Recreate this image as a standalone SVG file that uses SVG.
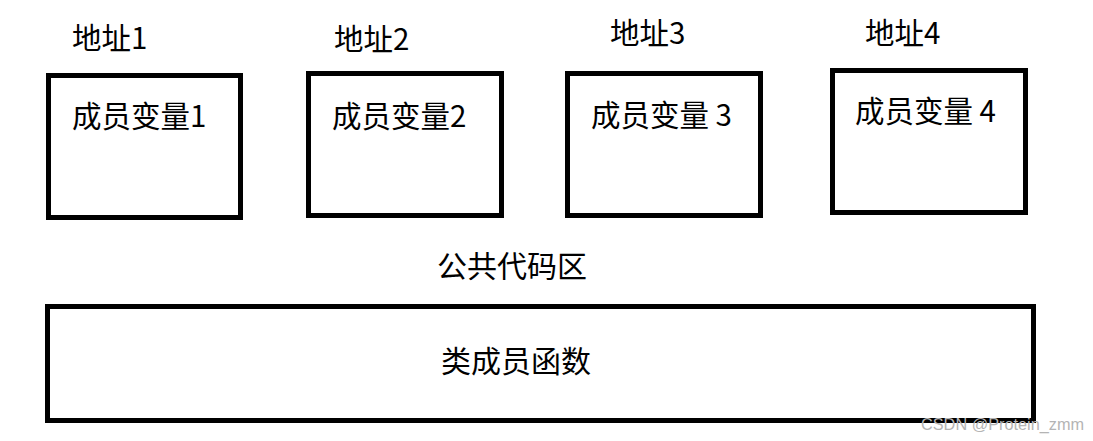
<svg xmlns="http://www.w3.org/2000/svg" width="1093" height="441" viewBox="0 0 1093 441">
<style>
.box{fill:#fff;stroke:#000;stroke-width:5}
.t{font-family:"Noto Sans CJK SC","Noto Sans",sans-serif;font-size:29.5px;fill:#000}
.b{font-size:30px}
.wm{font-family:"Liberation Sans",Arial,sans-serif;font-size:16.3px;fill:#b4b4b4}
</style>
<rect width="1093" height="441" fill="#fff"/>
<g id="addr1"><text class="t" x="72" y="49">地址1</text></g>
<g id="addr2"><text class="t" x="334" y="50">地址2</text></g>
<g id="addr3"><text class="t" x="610" y="44">地址3</text></g>
<g id="addr4"><text class="t" x="865" y="44">地址4</text></g>
<g id="node1"><rect class="box" x="48.5" y="75.5" width="192" height="142"/><text class="t" x="72" y="127">成员变量1</text></g>
<g id="node2"><rect class="box" x="308.5" y="73.5" width="193" height="142"/><text class="t" x="332" y="127">成员变量2</text></g>
<g id="node3"><rect class="box" x="567.5" y="73.5" width="193" height="142"/><text class="t" x="591" y="126">成员变量 3</text></g>
<g id="node4"><rect class="box" x="832.5" y="70.5" width="193" height="142"/><text class="t" x="855" y="122">成员变量 4</text></g>
<g id="public-label"><text class="t b" x="437" y="277">公共代码区</text></g>
<g id="func"><rect class="box" x="47.5" y="306.5" width="986" height="114"/><text class="t b" x="441" y="372">类成员函数</text></g>
<g id="connectors"></g>
<text class="wm" x="921" y="430">CSDN @Protein_zmm</text>
</svg>
